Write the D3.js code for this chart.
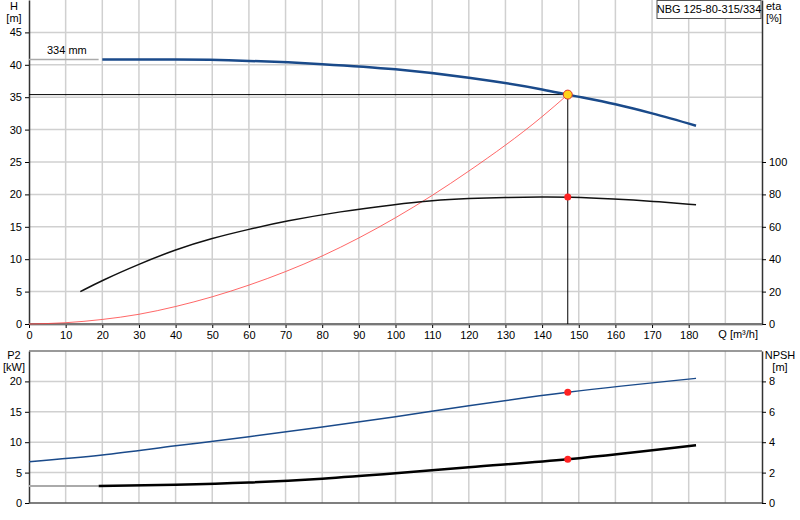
<!DOCTYPE html><html><head><meta charset="utf-8"><script src="https://cdn.jsdelivr.net/npm/d3@7"></script>
<style>body{margin:0;background:#fff}text{font-family:"Liberation Sans",Arial,sans-serif;font-size:11px}</style></head><body>
<svg id="c" width="800" height="520"></svg>
<script>
const headQ=[0,20,40,60,80,100,120,140,147,160,170,182];
const headH=[40.8,40.8,40.8,40.6,40.1,39.3,38.0,36.2,35.4,33.9,32.5,30.6];
const etaQ=[14,20,30,40,50,60,70,85,100,110,120,130,140,147,160,170,182];
const etaV=[20,27,37,46,53,58.5,63.5,69.5,73.8,76.2,77.5,78.2,78.4,78.4,77.2,75.8,73.6];
const sysQ=[0,10,20,30,40,60,80,100,120,140,147];
const sysH=[0,0.2,0.7,1.5,2.7,6,10.5,16.4,23.6,32,35.4];
const p2Q=[0,20,40,60,80,100,120,147,182];
const p2V=[6.8,7.9,9.4,10.9,12.5,14.2,16.0,18.2,20.5];
const npQ=[19,40,60,80,100,120,147,182];
const npV=[1.12,1.2,1.35,1.6,1.95,2.35,2.88,3.8];
const opQ=147, opH=35.4, opEta=78.4, opP2=18.2, opNp=2.88;
const xTicks=d3.range(0,190,10), hTicks=d3.range(0,50,5), etaTicks=d3.range(0,120,20);
const p2Ticks=[0,5,10,15,20], npTicks=[0,2,4,6,8];

const svg=d3.select("#c");
const x=d3.scaleLinear().domain([0,200]).range([29,762]);
const yH=d3.scaleLinear().domain([0,50]).range([324,0]);
const yE=d3.scaleLinear().domain([0,200]).range([324,0]);
const yP=d3.scaleLinear().domain([0,25]).range([503,351]);
const yN=d3.scaleLinear().domain([0,10]).range([503,351]);
const grid="#d0d0d0";
function gridlines(y,ticks,top,bot){
  const g=svg.append("g");
  d3.range(10,200,10).forEach(q=>g.append("line").attr("x1",x(q)).attr("x2",x(q)).attr("y1",top).attr("y2",bot).attr("stroke",grid).attr("stroke-width",1.5));
  ticks.forEach(t=>g.append("line").attr("x1",x(0)).attr("x2",x(200)).attr("y1",y(t)).attr("y2",y(t)).attr("stroke",grid).attr("stroke-width",1.5));
}
gridlines(yH,d3.range(5,50,5),0,324);
gridlines(yP,[5,10,15,20],351,503);
svg.append("g").attr("transform","translate(29,0)").call(d3.axisLeft(yH).tickValues(hTicks).tickSize(4).tickSizeOuter(0));
svg.append("g").attr("transform","translate(762,0)").call(d3.axisRight(yE).tickValues(etaTicks).tickSize(4).tickSizeOuter(0));
svg.append("g").attr("transform","translate(0,324)").call(d3.axisBottom(x).tickValues(xTicks).tickSize(4).tickSizeOuter(0));
svg.append("line").attr("x1",x(0)).attr("x2",x(200)).attr("y1",324).attr("y2",324).attr("stroke","#777").attr("stroke-width",2);
svg.append("text").attr("x",x(200)-4).attr("y",338).attr("text-anchor","end").text("Q [m³/h]");
svg.append("g").attr("transform","translate(29,0)").call(d3.axisLeft(yP).tickValues(p2Ticks).tickSize(4).tickSizeOuter(0));
svg.append("g").attr("transform","translate(762,0)").call(d3.axisRight(yN).tickValues(npTicks).tickSize(4).tickSizeOuter(0));
svg.append("line").attr("x1",29).attr("x2",762).attr("y1",351).attr("y2",351).attr("stroke","#777").attr("stroke-width",1.5);
svg.append("line").attr("x1",29).attr("x2",762).attr("y1",503).attr("y2",503).attr("stroke","#555").attr("stroke-width",1.5);
svg.selectAll(".domain").attr("stroke","#333").attr("stroke-width",1.5);
svg.selectAll(".tick text").attr("fill","#000");
[["H",14,10],["[m]",14,22]].forEach(d=>svg.append("text").attr("x",d[1]).attr("y",d[2]).attr("text-anchor","middle").text(d[0]));
[["eta",766,10],["[%]",766,22]].forEach(d=>svg.append("text").attr("x",d[1]).attr("y",d[2]).text(d[0]));
[["P2",14,359],["[kW]",14,371]].forEach(d=>svg.append("text").attr("x",d[1]).attr("y",d[2]).attr("text-anchor","middle").text(d[0]));
[["NPSH",780,359],["[m]",780,371]].forEach(d=>svg.append("text").attr("x",d[1]).attr("y",d[2]).attr("text-anchor","middle").text(d[0]));
svg.append("rect").attr("x",657).attr("y",0.5).attr("width",104).attr("height",18).attr("fill","#fff").attr("stroke","#555");
svg.append("text").attr("x",709).attr("y",13).attr("text-anchor","middle").text("NBG 125-80-315/334");
svg.append("text").attr("x",47).attr("y",54).text("334 mm");
const line=(xs,ys,y,c)=>d3.line().curve(c||d3.curveMonotoneX)(xs.map((q,i)=>[x(q),y(ys[i])]));
svg.append("line").attr("x1",x(0)).attr("x2",x(opQ)).attr("y1",yH(opH)).attr("y2",yH(opH)).attr("stroke","#000");
svg.append("line").attr("x1",x(opQ)).attr("x2",x(opQ)).attr("y1",yH(opH)).attr("y2",yH(0)).attr("stroke","#000");
svg.append("path").attr("d",line(sysQ,sysH,yH)).attr("fill","none").attr("stroke","#ff4040").attr("stroke-width",0.8);
svg.append("line").attr("x1",x(0)).attr("x2",x(19)).attr("y1",yH(40.8)).attr("y2",yH(40.8)).attr("stroke","#aaa").attr("stroke-width",1.5);
svg.append("path").attr("d",line(headQ.slice(1),headH.slice(1),yH)).attr("fill","none").attr("stroke","#1a4a8a").attr("stroke-width",2.5);
svg.append("path").attr("d",line(etaQ,etaV,yE,d3.curveBasis)).attr("fill","none").attr("stroke","#111").attr("stroke-width",1.5);
svg.append("path").attr("d",line(p2Q,p2V,yP)).attr("fill","none").attr("stroke","#1a4a8a").attr("stroke-width",1.5);
svg.append("line").attr("x1",x(0)).attr("x2",x(19)).attr("y1",yN(npV[0])).attr("y2",yN(npV[0])).attr("stroke","#aaa").attr("stroke-width",2);
svg.append("path").attr("d",line(npQ,npV,yN)).attr("fill","none").attr("stroke","#000").attr("stroke-width",2.5);
[[opEta,yE],[opP2,yP],[opNp,yN]].forEach(d=>svg.append("circle").attr("cx",x(opQ)).attr("cy",d[1](d[0])).attr("r",3.5).attr("fill","#f22"));
svg.append("circle").attr("cx",x(opQ)).attr("cy",yH(opH)).attr("r",4.5).attr("fill","#ffd21a").attr("stroke","#e03030").attr("stroke-width",1);
</script></body></html>
